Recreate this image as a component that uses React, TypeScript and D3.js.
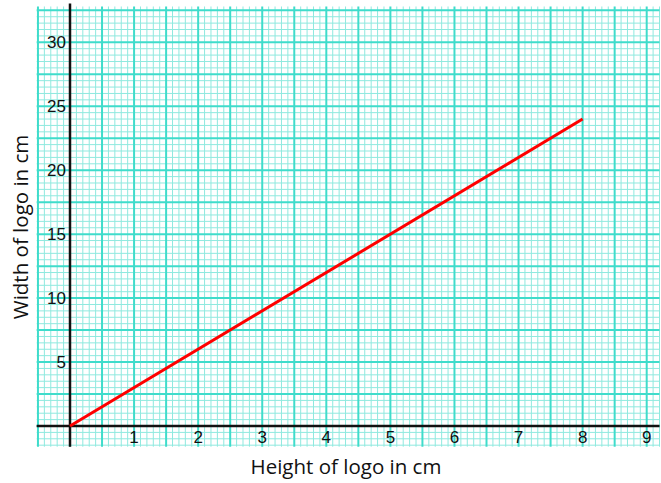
import React from "react";
import * as d3 from "d3";

const xTicks = [1, 2, 3, 4, 5, 6, 7, 8, 9];
const yTicks = [5, 10, 15, 20, 25, 30];
const heights = [0, 8];
const widths = [0, 24];
const xTitle = "Height of logo in cm";
const yTitle = "Width of logo in cm";

export default function App() {
  const W = 661, H = 483;
  const x = d3.scaleLinear().domain([0, 9]).range([70, 646.7]);
  const y = d3.scaleLinear().domain([0, 30]).range([426, 42.3]);
  const xMin = -0.52, xMax = 9.2, yMin = -1.62, yMax = 32.8;
  const vLines = d3.range(-5, 93).map((i) => i / 10);
  const hLines = d3.range(-3, 66).map((i) => i / 2);
  const isMajorX = (v: number) => Math.abs(v * 2 - Math.round(v * 2)) < 1e-6;
  const isMajorY = (v: number) => Math.abs(v / 2.5 - Math.round(v / 2.5)) < 1e-6;
  const line = d3.line<number>().x((d) => x(heights[d])).y((d) => y(widths[d]));
  return (
    <svg width={W} height={H} style={{ position: "absolute", left: 0, top: 0, background: "#fff" }}>
      <g>
        {vLines.filter((v) => !isMajorX(v)).map((v) => (
          <line key={"vm" + v} x1={x(v)} x2={x(v)} y1={y(yMax)} y2={y(yMin)} stroke="#8fe9df" strokeWidth={1} />
        ))}
        {hLines.filter((v) => !isMajorY(v)).map((v) => (
          <line key={"hm" + v} x1={x(xMin)} x2={x(xMax)} y1={y(v)} y2={y(v)} stroke="#8fe9df" strokeWidth={1} />
        ))}
        {vLines.filter((v) => isMajorX(v)).map((v) => (
          <line key={"vM" + v} x1={x(v)} x2={x(v)} y1={y(yMax)} y2={y(yMin)} stroke="#3fdccb" strokeWidth={2} />
        ))}
        {hLines.filter((v) => isMajorY(v)).map((v) => (
          <line key={"hM" + v} x1={x(xMin)} x2={x(xMax)} y1={y(v)} y2={y(v)} stroke="#3fdccb" strokeWidth={2} />
        ))}
      </g>
      <line x1={x(0)} x2={x(0)} y1={y(yMax) - 3} y2={y(yMin)} stroke="#111" strokeWidth={2.5} />
      <line x1={x(xMin)} x2={x(xMax)} y1={y(0)} y2={y(0)} stroke="#111" strokeWidth={2.5} />
      <path d={line([0, 1]) || ""} stroke="#f00" strokeWidth={3} fill="none" />
      {xTicks.map((t) => (
        <text key={"xt" + t} x={x(t)} y={y(0) + 17} textAnchor="middle" fontFamily="'Liberation Sans', Arial, sans-serif" fontSize={17} fill="#111">
          {t}
        </text>
      ))}
      {yTicks.map((t) => (
        <text key={"yt" + t} x={x(0) - 4} y={y(t) + 6} textAnchor="end" fontFamily="'Liberation Sans', Arial, sans-serif" fontSize={17} fill="#111">
          {t}
        </text>
      ))}
      <text x={346} y={474} textAnchor="middle" fontFamily="'Open Sans', Lato, sans-serif" fontSize={20.5} fill="#111">
        {xTitle}
      </text>
      <text transform={`translate(28,${227}) rotate(-90)`} textAnchor="middle" fontFamily="'Open Sans', Lato, sans-serif" fontSize={20.5} fill="#111">
        {yTitle}
      </text>
    </svg>
  );
}
